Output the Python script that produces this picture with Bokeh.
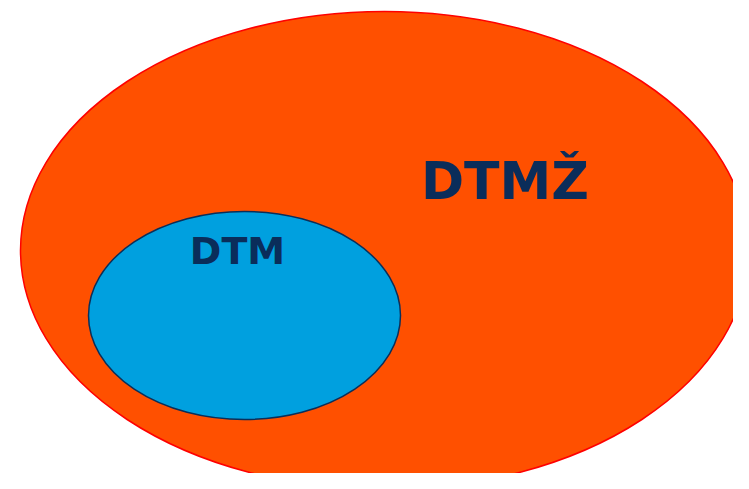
from bokeh.plotting import figure
from bokeh.models import Range1d, ColumnDataSource
from bokeh.core.properties import value
from bokeh.embed import file_html
from bokeh.resources import INLINE

# Venn sets (pixel-like coordinate space, y grows downward)
set_names = ["DTMŽ", "DTM"]
set_cx = [384, 244]
set_cy = [250, 315]
set_w = [728, 312]
set_h = [478, 208]
set_fill = ["#ff5000", "#00a0df"]
set_line = ["#ff0000", "#0a2f5a"]

label_text = ["DTMŽ", "DTM"]
label_x = [504.5, 237]
label_y = [180, 250]
label_size = ["52px", "38px"]

p = figure(width=733, height=473, output_backend="svg", toolbar_location=None,
           x_range=Range1d(0, 733), y_range=Range1d(473, 0), min_border=0)
p.axis.visible = False
p.grid.visible = False
p.outline_line_color = None
p.background_fill_color = "white"
p.border_fill_color = "white"

src = ColumnDataSource(dict(x=set_cx, y=set_cy, w=set_w, h=set_h,
                            fill=set_fill, line=set_line))
p.ellipse(x="x", y="y", width="w", height="h", source=src,
          fill_color="fill", line_color="line", line_width=1.5)

lsrc = ColumnDataSource(dict(x=label_x, y=label_y, t=label_text, s=label_size))
p.text(x="x", y="y", text="t", source=lsrc, text_font_size="s",
       text_font=value("DejaVu Sans"), text_font_style="bold",
       text_color="#0a2d5a", text_align="center", text_baseline="alphabetic")

open("out.html", "w").write(file_html(p, INLINE))
